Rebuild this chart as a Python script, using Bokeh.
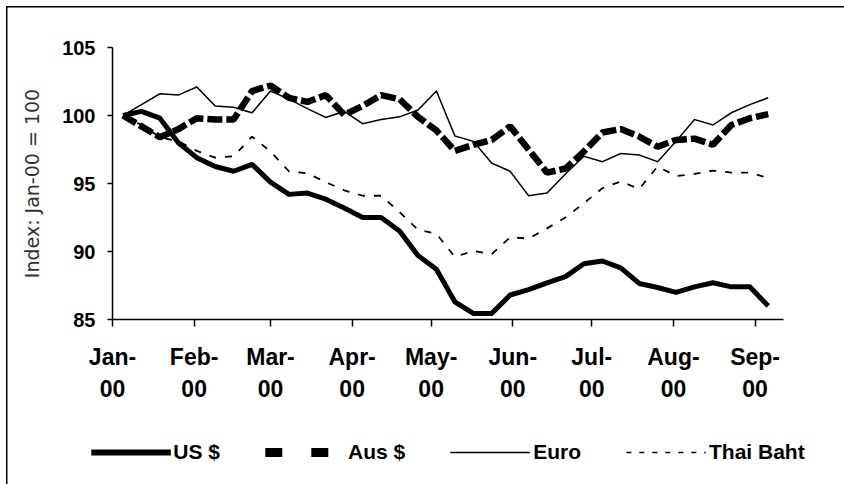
import pandas as pd
from bokeh.plotting import figure
from bokeh.layouts import column
from bokeh.models import (ColumnDataSource, Range1d, FixedTicker, Legend,
                          LegendItem)
from bokeh.embed import file_html
from bokeh.resources import INLINE

# weekly index values, Jan-00 = 100
dates = pd.date_range("2000-01-05", periods=36, freq="7D")
us = [100.0, 100.3, 99.8, 98.0, 96.9, 96.25, 95.9, 96.4, 95.1, 94.2,
      94.3, 93.85, 93.2, 92.5, 92.5, 91.5, 89.7, 88.7, 86.3, 85.45,
      85.45, 86.8, 87.2, 87.7, 88.15, 89.1, 89.3, 88.8, 87.65, 87.35,
      87.0, 87.4, 87.7, 87.4, 87.4, 86.0]
aus = [100.0, 99.2, 98.4, 99.0, 99.8, 99.7, 99.7, 101.8, 102.2, 101.3,
       101.0, 101.5, 100.05, 100.7, 101.5, 101.2, 99.9, 98.9, 97.4, 97.85,
       98.2, 99.2, 97.5, 95.8, 96.1, 97.35, 98.75, 99.0, 98.45, 97.7,
       98.2, 98.3, 97.85, 99.3, 99.8, 100.1]
euro = [100.0, 100.8, 101.6, 101.5, 102.1, 100.7, 100.6, 100.2, 101.8, 101.2,
        100.5, 99.85, 100.3, 99.4, 99.7, 99.9, 100.4, 101.8, 98.5, 98.1,
        96.5, 95.9, 94.1, 94.3, 95.7, 97.0, 96.6, 97.2, 97.1, 96.6,
        98.1, 99.7, 99.3, 100.2, 100.8, 101.3]
thai = [100.0, 99.3, 98.4, 98.1, 97.4, 96.9, 97.0, 98.45, 97.35, 95.9,
        95.75, 95.1, 94.5, 94.1, 94.1, 92.9, 91.6, 91.3, 89.6, 90.05,
        89.8, 91.05, 90.95, 91.7, 92.5, 93.55, 94.65, 95.15, 94.6, 96.25,
        95.55, 95.7, 95.95, 95.8, 95.8, 95.4]

month_starts = pd.date_range("2000-01-01", periods=9, freq="MS")
month_labels = ["Jan-\n00", "Feb-\n00", "Mar-\n00", "Apr-\n00", "May-\n00",
                "Jun-\n00", "Jul-\n00", "Aug-\n00", "Sep-\n00"]
y_ticks = [85, 90, 95, 100, 105]

start = pd.Timestamp("2000-01-01")
day = pd.Timedelta(days=1)
days = [(d - start) / day for d in dates]
tick_days = [(d - start) / day for d in month_starts]

src = ColumnDataSource(data=dict(x=days, us=us, aus=aus, euro=euro, thai=thai))

FONT = "Liberation Sans"

chart = figure(frame_width=671, frame_height=272, output_backend="svg",
               toolbar_location=None,
               x_range=Range1d(0, 254.8), y_range=Range1d(85, 105),
               min_border_left=112, min_border_right=61,
               min_border_top=47, min_border_bottom=114)
# chart-area border on the top and left edges (the rest is cut off in the original)
chart.border_fill_alpha = 0
chart.styles = {"box-shadow": "inset 6px 6px 0 0 #fff, inset 7.5px 7.5px 0 0 #000"}
chart.outline_line_color = None
chart.xgrid.visible = False
chart.ygrid.visible = False

chart.xaxis.ticker = FixedTicker(ticks=tick_days)
chart.xaxis.major_label_overrides = dict(zip(tick_days, month_labels))
chart.yaxis.ticker = FixedTicker(ticks=y_ticks)
for ax in (chart.xaxis, chart.yaxis):
    ax.axis_line_width = 1.5
    ax.major_tick_line_width = 1.5
    ax.major_tick_in = 0
    ax.minor_tick_line_color = None
    ax.major_label_text_font = FONT
    ax.major_label_text_font_style = "bold"
    ax.major_label_text_color = "black"
chart.xaxis.major_tick_out = 7
chart.xaxis.major_label_text_font_size = "23px"
chart.xaxis.major_label_text_line_height = 1.25
chart.xaxis.major_label_standoff = 17
chart.yaxis.major_tick_out = 5
chart.yaxis.major_label_text_font_size = "20px"
chart.yaxis.major_label_standoff = 12
chart.yaxis.axis_label = "Index: Jan-00 = 100"
chart.yaxis.axis_label_text_font = "DejaVu Sans"
chart.yaxis.axis_label_text_font_style = "normal"
chart.yaxis.axis_label_text_font_size = "19px"
chart.yaxis.axis_label_text_color = "#333333"
chart.yaxis.axis_label_standoff = 16

chart.line("x", "euro", source=src, line_width=1.5, color="black", line_join="miter")
chart.line("x", "thai", source=src, line_width=1.8, color="black", line_dash="7 9")
chart.line("x", "aus", source=src, line_width=6.5, color="black", line_dash="15 4")
chart.line("x", "us", source=src, line_width=5, color="black", line_join="round")

# strip under the chart that only carries the key; its ranges keep the data out of view
key = figure(width=844, height=51, output_backend="svg", toolbar_location=None,
             x_range=Range1d(0, 1), y_range=Range1d(0, 1), min_border=0)
key.axis.visible = False
key.grid.visible = False
key.outline_line_color = None
key.border_fill_alpha = 0
key.background_fill_alpha = 0
key.styles = {"box-shadow": "inset 6px 0 0 0 #fff, inset 7.5px 0 0 0 #000"}

k_us = key.line("x", "us", source=src, line_width=6, color="black")
k_aus = key.line("x", "aus", source=src, line_width=9, color="black",
                 line_dash="17 29")
k_euro = key.line("x", "euro", source=src, line_width=1.5, color="black")
k_thai = key.line("x", "thai", source=src, line_width=1.5, color="black",
                  line_dash="5 8")

legend = Legend(items=[LegendItem(label="US $", renderers=[k_us]),
                       LegendItem(label="Aus $", renderers=[k_aus]),
                       LegendItem(label="Euro", renderers=[k_euro]),
                       LegendItem(label="Thai Baht", renderers=[k_thai])],
                orientation="horizontal", location="center",
                glyph_width=80, glyph_height=20, label_standoff=3, spacing=45,
                padding=0, margin=12, border_line_color=None,
                background_fill_alpha=0,
                label_text_font=FONT, label_text_font_style="bold",
                label_text_font_size="21px", label_text_color="black")
key.add_layout(legend, "above")

p = column(chart, key, spacing=0)

open("out.html", "w").write(file_html(p, INLINE))
